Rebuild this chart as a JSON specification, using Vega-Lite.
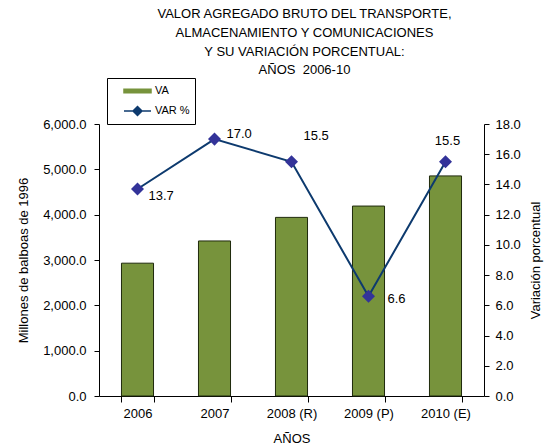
{
  "$schema": "https://vega.github.io/schema/vega-lite/v6.json",
  "width": 385,
  "height": 272,
  "autosize": "none",
  "padding": {"left": 99, "top": 124, "right": 61, "bottom": 50},
  "background": "white",
  "config": {
    "font": "Liberation Sans",
    "view": {"stroke": null},
    "axis": {
      "grid": false,
      "domainColor": "black",
      "tickColor": "black",
      "labelColor": "black",
      "titleColor": "black",
      "labelFont": "Liberation Sans",
      "titleFont": "Liberation Sans",
      "labelFontSize": 13,
      "titleFontSize": 13,
      "titleFontWeight": "normal"
    },
    "legend": {
      "title": null,
      "orient": "none",
      "legendX": 8,
      "legendY": -46,
      "strokeColor": "black",
      "fillColor": "white",
      "padding": 5,
      "symbolSize": 196,
      "symbolOffset": 17.5,
      "labelOffset": 9.5,
      "rowPadding": 7,
      "labelFontSize": 11,
      "labelFont": "Liberation Sans",
      "labelColor": "black"
    }
  },
  "title": {
    "text": ["VALOR AGREGADO BRUTO DEL TRANSPORTE,", "ALMACENAMIENTO Y COMUNICACIONES", "Y SU VARIACIÓN PORCENTUAL:", "AÑOS\u00a0 2006-10"],
    "font": "Liberation Sans",
    "fontSize": 13,
    "fontWeight": "normal",
    "color": "black",
    "lineHeight": 18.7,
    "anchor": "middle",
    "offset": 0,
    "dx": 13
  },
  "data": {
    "values": [
      {"anio": "2006", "va": 2930, "var": 13.7},
      {"anio": "2007", "va": 3420, "var": 17.0},
      {"anio": "2008 (R)", "va": 3940, "var": 15.5},
      {"anio": "2009 (P)", "va": 4190, "var": 6.6},
      {"anio": "2010 (E)", "va": 4855, "var": 15.5}
    ]
  },
  "encoding": {
    "x": {
      "field": "anio",
      "type": "nominal",
      "sort": null,
      "scale": {"paddingInner": 0.584, "paddingOuter": 0.292},
      "axis": {"title": "AÑOS", "labelAngle": 0, "tickBand": "extent", "tickSize": 6, "labelPadding": 5, "titlePadding": 12}
    }
  },
  "layer": [
    {
      "mark": {"type": "bar", "stroke": "#1f2a0c", "strokeWidth": 1},
      "encoding": {
        "y": {
          "field": "va",
          "type": "quantitative",
          "scale": {"domain": [0, 6000], "nice": false},
          "axis": {"title": "Millones de balboas de 1996", "format": ",.1f", "values": [0, 1000, 2000, 3000, 4000, 5000, 6000], "tickSize": 5, "labelPadding": 8, "titlePadding": 12}
        },
        "color": {
          "datum": "VA",
          "type": "nominal",
          "scale": {"domain": ["VA", "VAR %"], "range": ["#77933C", "#0D3A6E"]},
          "legend": {
            "encode": {
              "symbols": {
                "update": {
                  "shape": {"signal": "datum.value === 'VA' ? 'M-1.93,-0.25H1.93V0.25H-1.93Z' : 'M-1.93,0H1.93M0,-0.64L0.64,0L0,0.64L-0.64,0Z'"},
                  "fill": {"signal": "datum.value === 'VA' ? '#77933C' : '#333399'"},
                  "stroke": {"signal": "datum.value === 'VA' ? '#1a1a1a' : '#0D3A6E'"},
                  "strokeWidth": {"value": 1.5},
                  "opacity": {"value": 1},
                  "fillOpacity": {"value": 1}
                }
              }
            }
          }
        }
      }
    },
    {
      "encoding": {
        "y": {
          "field": "var",
          "type": "quantitative",
          "scale": {"domain": [0, 18], "nice": false},
          "axis": {"orient": "right", "title": "Variación porcentual", "titleAngle": -90, "format": ".1f", "values": [0, 2, 4, 6, 8, 10, 12, 14, 16, 18], "tickSize": 5, "labelPadding": 6, "titlePadding": 22}
        }
      },
      "layer": [
        {
          "mark": {"type": "line", "strokeWidth": 2},
          "encoding": {
            "color": {
              "datum": "VAR %",
              "type": "nominal",
              "legend": {
                "encode": {
                  "symbols": {
                    "update": {
                      "shape": {"signal": "datum.value === 'VA' ? 'M-1.93,-0.25H1.93V0.25H-1.93Z' : 'M-1.93,0H1.93M0,-0.64L0.64,0L0,0.64L-0.64,0Z'"},
                      "fill": {"signal": "datum.value === 'VA' ? '#77933C' : '#333399'"},
                      "stroke": {"signal": "datum.value === 'VA' ? '#1a1a1a' : '#0D3A6E'"},
                      "strokeWidth": {"value": 1.5},
                      "opacity": {"value": 1},
                      "fillOpacity": {"value": 1}
                    }
                  }
                }
              }
            }
          }
        },
        {
          "mark": {"type": "point", "shape": "diamond", "size": 170, "filled": true, "fill": "#333399", "opacity": 1, "strokeWidth": 0}
        },
        {
          "transform": [{"filter": "datum.anio === '2006'"}],
          "mark": {"type": "text", "align": "left", "baseline": "middle", "dx": 11, "dy": 7, "fontSize": 13, "font": "Liberation Sans", "color": "black"},
          "encoding": {"text": {"field": "var", "type": "quantitative", "format": ".1f"}}
        },
        {
          "transform": [{"filter": "datum.anio === '2007'"}],
          "mark": {"type": "text", "align": "left", "baseline": "middle", "dx": 12, "dy": -5, "fontSize": 13, "font": "Liberation Sans", "color": "black"},
          "encoding": {"text": {"field": "var", "type": "quantitative", "format": ".1f"}}
        },
        {
          "transform": [{"filter": "datum.anio === '2008 (R)'"}],
          "mark": {"type": "text", "align": "left", "baseline": "middle", "dx": 12, "dy": -26, "fontSize": 13, "font": "Liberation Sans", "color": "black"},
          "encoding": {"text": {"field": "var", "type": "quantitative", "format": ".1f"}}
        },
        {
          "transform": [{"filter": "datum.anio === '2009 (P)'"}],
          "mark": {"type": "text", "align": "left", "baseline": "middle", "dx": 19, "dy": 3, "fontSize": 13, "font": "Liberation Sans", "color": "black"},
          "encoding": {"text": {"field": "var", "type": "quantitative", "format": ".1f"}}
        },
        {
          "transform": [{"filter": "datum.anio === '2010 (E)'"}],
          "mark": {"type": "text", "align": "center", "baseline": "middle", "dx": 2, "dy": -21, "fontSize": 13, "font": "Liberation Sans", "color": "black"},
          "encoding": {"text": {"field": "var", "type": "quantitative", "format": ".1f"}}
        }
      ]
    }
  ],
  "resolve": {"scale": {"y": "independent"}}
}
